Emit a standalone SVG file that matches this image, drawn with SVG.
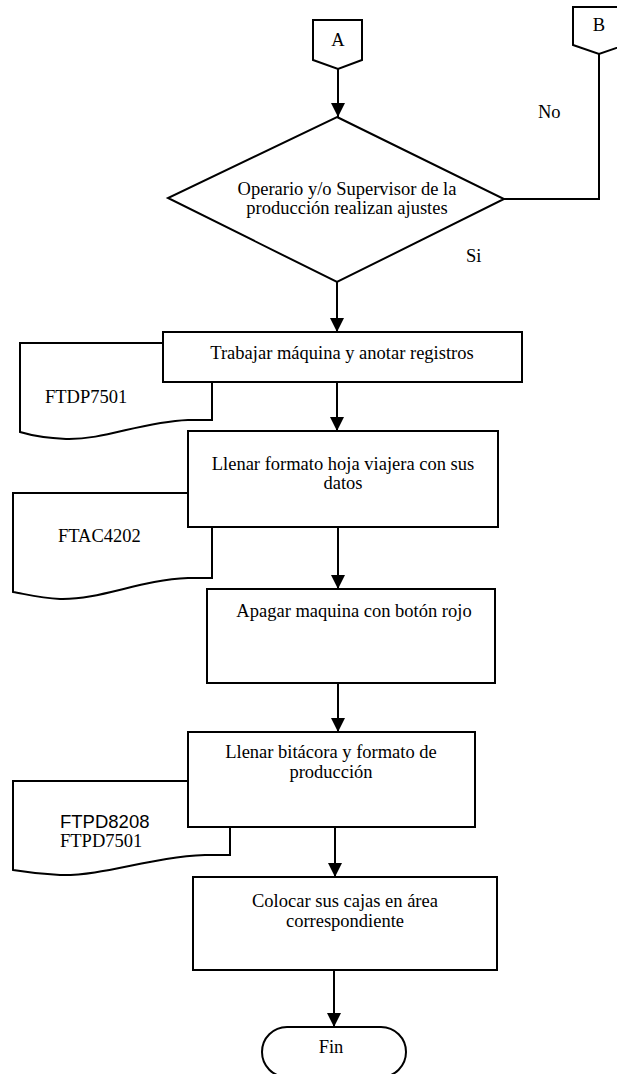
<svg xmlns="http://www.w3.org/2000/svg" width="617" height="1074" viewBox="0 0 617 1074">
  <style>
    .shape { fill: #ffffff; stroke: #000000; stroke-width: 2; }
    .line { fill: none; stroke: #000000; stroke-width: 2; }
    .t { font-family: "Liberation Serif", "Times New Roman", serif; font-size: 18.5px; fill: #000000; }
    .ts { font-family: "Liberation Sans", Arial, sans-serif; font-size: 18.5px; fill: #000000; }
    .c { text-anchor: middle; }
  </style>
  <defs>
    <marker id="arrow" viewBox="0 0 14 14" refX="14" refY="7" markerWidth="14" markerHeight="14" markerUnits="userSpaceOnUse" orient="auto">
      <path d="M0,0 L14,7 L0,14 Z" fill="#000000"/>
    </marker>
  </defs>
  <rect width="617" height="1074" fill="#ffffff"/>

  <!-- connectors -->
  <g id="connectors">
    <line class="line" x1="338" y1="69" x2="338" y2="117" marker-end="url(#arrow)"/>
    <polyline class="line" points="599,54 599,199 504,199"/>
    <line class="line" x1="337" y1="282" x2="337" y2="332" marker-end="url(#arrow)"/>
    <line class="line" x1="337" y1="382" x2="337" y2="431" marker-end="url(#arrow)"/>
    <line class="line" x1="338" y1="527" x2="338" y2="589" marker-end="url(#arrow)"/>
    <line class="line" x1="338" y1="683" x2="338" y2="732" marker-end="url(#arrow)"/>
    <line class="line" x1="335" y1="827" x2="335" y2="877" marker-end="url(#arrow)"/>
    <line class="line" x1="334" y1="970" x2="334" y2="1027" marker-end="url(#arrow)"/>
    <text class="t" x="538" y="118">No</text>
    <text class="t" x="466" y="262">Si</text>
  </g>

  <!-- off-page connector A -->
  <g id="conn-a">
    <polygon class="shape" points="313,20 362,20 362,60 338,69 313,60"/>
    <text class="t c" x="338" y="46">A</text>
  </g>

  <!-- off-page connector B -->
  <g id="conn-b">
    <polygon class="shape" points="573,7 625,7 625,45 599,54 573,45"/>
    <text class="t c" x="599" y="31">B</text>
  </g>

  <!-- decision -->
  <g id="decision">
    <polygon class="shape" points="337,117 504,199 337,282 168,198"/>
    <text class="t c" x="347" y="195">Operario y/o Supervisor de la</text>
    <text class="t c" x="347" y="214">producción realizan ajustes</text>
  </g>

  <!-- document FTDP7501 -->
  <g id="doc-1">
    <path class="shape" d="M20,343 H212 V420 H188 C140,422 105,440 66,439 C45,438 30,435 20,432 Z"/>
    <text class="t" x="45" y="403">FTDP7501</text>
  </g>

  <!-- process: work machine -->
  <g id="step-1">
    <rect class="shape" x="163" y="332" width="359" height="50"/>
    <text class="t c" x="342" y="359">Trabajar máquina y anotar registros</text>
  </g>

  <!-- document FTAC4202 -->
  <g id="doc-2">
    <path class="shape" d="M13,493 H212 V578 H188 C140,580 100,600 60,599 C40,598 25,594 13,592 Z"/>
    <text class="t" x="58" y="542">FTAC4202</text>
  </g>

  <!-- process: travel sheet -->
  <g id="step-2">
    <rect class="shape" x="188" y="431" width="310" height="96"/>
    <text class="t c" x="343" y="470">Llenar formato hoja viajera con sus</text>
    <text class="t c" x="343" y="489">datos</text>
  </g>

  <!-- process: shut down -->
  <g id="step-3">
    <rect class="shape" x="207" y="589" width="288" height="94"/>
    <text class="t c" x="354" y="617">Apagar maquina con botón rojo</text>
  </g>

  <!-- document FTPD8208 / FTPD7501 -->
  <g id="doc-3">
    <path class="shape" d="M13,781 H230 V855 H205 C150,857 105,876 60,875 C40,874 25,872 13,870 Z"/>
    <text class="ts" x="60" y="828">FTPD8208</text>
    <text class="t" x="60" y="847">FTPD7501</text>
  </g>

  <!-- process: log book -->
  <g id="step-4">
    <rect class="shape" x="188" y="732" width="287" height="95"/>
    <text class="t c" x="331" y="758">Llenar bitácora y formato de</text>
    <text class="t c" x="331" y="778">producción</text>
  </g>

  <!-- process: place boxes -->
  <g id="step-5">
    <rect class="shape" x="193" y="877" width="304" height="93"/>
    <text class="t c" x="345" y="907">Colocar sus cajas en área</text>
    <text class="t c" x="345" y="927">correspondiente</text>
  </g>

  <!-- terminator -->
  <g id="end">
    <rect class="shape" x="262" y="1027" width="144" height="50" rx="25" ry="25"/>
    <text class="t c" x="331" y="1053">Fin</text>
  </g>
</svg>
